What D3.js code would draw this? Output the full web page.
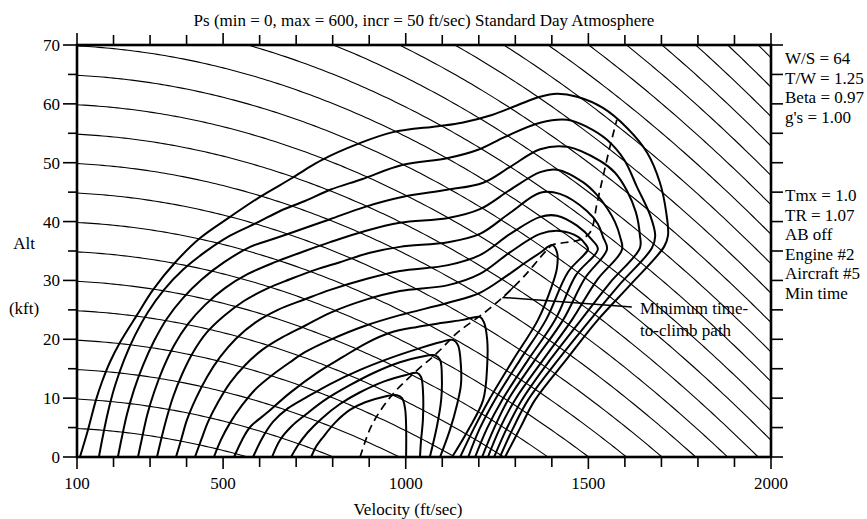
<!DOCTYPE html>
<html><head><meta charset="utf-8">
<script src="https://cdn.jsdelivr.net/npm/d3@7"></script>
<style>
body{margin:0;background:#fff;}
svg{display:block;}
text{font-family:"Liberation Serif","Times New Roman",serif;font-size:17px;fill:#000;}
</style></head><body>
<svg id="chart" width="867" height="519"></svg>
<script>
// ---------- data ----------
const xDomain = [100, 2000];            // Velocity (ft/sec)
const yDomain = [0, 70];                // Alt (kft)
const xTickValues = d3.range(100, 2001, 100);
const xTickLabels = [100, 500, 1000, 1500, 2000];
const yTickValues = d3.range(0, 71, 5);
const yTickLabels = [0, 10, 20, 30, 40, 50, 60, 70];
const energyLevels = d3.range(5, 131, 5);   // specific energy lines, kft
const gravity = 32.174;

// Ps contours [velocity, altitude kft]
const ps0 = [[108,0],[130,4.6],[152,9.7],[168,12.7],[190,16.1],[218,19.5],[264,24.1],[308,28.4],[368,33.0],[437,37.2],[519,40.8],[601,44.2],[689,47.4],[724,48.8],[771,50.5],[869,53.2],[965,55.2],[1088,56.2],[1154,56.8],[1236,58.1],[1307,59.8],[1368,61.2],[1414,61.7],[1469,61.2],[1540,59.3],[1606,55.9],[1661,51.7],[1696,46.6],[1713,41.6],[1718,37.6],[1707,35.7],[1614,29.2],[1526,23.3],[1439,16.5],[1354,9.7],[1313,4.9],[1272,0]];
const ps50 = [[160,0],[171,3.6],[185,7.7],[204,12.1],[229,16.5],[259,20.7],[294,24.6],[338,28.4],[390,31.8],[450,34.8],[519,37.6],[596,39.9],[656,41.8],[724,43.5],[793,45.4],[880,47.2],[990,49.6],[1116,50.8],[1198,52.2],[1272,54.4],[1368,56.8],[1442,57.3],[1496,56.1],[1551,53.9],[1598,50.5],[1633,45.9],[1669,41.1],[1683,37.6],[1674,35.5],[1587,29.4],[1505,23.3],[1417,16.5],[1335,9.7],[1294,4.9],[1258,0]];
const ps100 = [[212,0],[223,3.4],[237,7.3],[256,11.4],[281,15.6],[311,19.7],[346,23.5],[390,27.0],[442,30.2],[503,33.1],[574,35.7],[645,37.2],[724,38.9],[793,40.4],[889,42.5],[993,44.2],[1113,45.4],[1212,46.6],[1286,49.3],[1368,52.3],[1442,52.7],[1532,50.3],[1573,48.3],[1606,45.2],[1630,41.6],[1641,37.7],[1641,35.5],[1559,29.6],[1480,23.3],[1395,16.5],[1318,9.7],[1277,4.9],[1242,0]];
const ps150 = [[267,0],[278,3.2],[292,7.1],[311,11.0],[336,15.1],[366,19.0],[404,22.6],[450,25.8],[505,28.7],[568,31.1],[642,33.1],[724,35.0],[793,36.5],[889,38.4],[984,39.8],[1116,40.6],[1203,42.1],[1286,45.4],[1368,48.4],[1414,48.8],[1485,46.7],[1524,44.5],[1551,42.3],[1573,39.9],[1587,37.4],[1592,35.2],[1524,30.1],[1455,23.3],[1376,16.5],[1299,9.7],[1258,4.9],[1225,0]];
const ps200 = [[319,0],[330,2.9],[344,6.3],[363,10.2],[388,14.1],[418,17.8],[456,21.2],[503,24.0],[557,26.5],[623,28.7],[683,30.2],[752,31.8],[820,33.1],[902,34.7],[984,35.7],[1116,36.5],[1203,37.9],[1286,41.5],[1368,44.9],[1422,44.7],[1496,41.8],[1526,39.6],[1540,37.4],[1551,35.3],[1491,30.4],[1431,23.3],[1354,16.5],[1280,9.7],[1242,4.9],[1209,0]];
const ps250 = [[371,0],[385,2.9],[401,6.3],[426,10.0],[456,13.6],[492,17.0],[535,20.1],[587,22.8],[650,25.0],[724,26.8],[793,28.4],[889,30.2],[984,31.6],[1116,32.6],[1203,34.3],[1286,37.9],[1368,40.8],[1414,41.0],[1469,39.3],[1510,36.9],[1526,35.3],[1466,30.9],[1409,23.3],[1335,16.5],[1264,9.7],[1223,4.9],[1190,0]];
const ps300 = [[423,0],[440,2.9],[459,6.0],[486,9.3],[519,12.6],[560,15.6],[607,18.2],[664,20.4],[724,22.3],[793,24.5],[889,26.7],[984,28.2],[1116,29.2],[1203,31.1],[1286,34.8],[1368,37.9],[1422,38.4],[1472,37.4],[1494,36.0],[1499,35.3],[1444,31.4],[1384,23.3],[1313,16.5],[1244,9.7],[1203,4.9],[1171,0]];
const ps350 = [[475,0],[494,2.9],[519,5.8],[552,8.8],[590,11.6],[634,13.9],[683,16.1],[724,17.8],[793,19.9],[889,22.3],[984,24.1],[1116,26.2],[1203,27.9],[1272,30.6],[1327,33.0],[1368,34.7],[1401,36.0],[1414,34.8],[1414,32.1],[1398,28.7],[1362,23.3],[1294,16.5],[1228,9.7],[1187,4.9],[1149,0]];
const ps400 = [[530,0],[552,2.9],[574,5.1],[620,7.5],[683,10.9],[757,14.3],[828,17.0],[894,19.4],[957,21.1],[1031,22.1],[1102,22.8],[1157,23.3],[1203,23.8],[1214,22.9],[1223,19.9],[1223,15.6],[1212,9.7],[1171,4.6],[1127,0]];
const ps450 = [[582,0],[607,3.2],[637,6.0],[678,8.3],[724,10.0],[793,12.4],[875,14.8],[957,16.8],[1039,18.5],[1094,19.5],[1129,19.9],[1143,19.0],[1151,15.6],[1151,12.2],[1140,8.8],[1121,4.6],[1094,0]];
const ps500 = [[634,0],[656,2.9],[689,5.3],[724,7.1],[779,9.7],[847,12.2],[916,14.4],[984,16.1],[1039,17.0],[1080,17.3],[1094,16.5],[1099,13.1],[1097,9.7],[1086,5.4],[1066,0]];
const ps550 = [[686,0],[705,2.0],[732,4.2],[771,6.6],[820,9.0],[875,11.0],[943,12.9],[998,13.9],[1031,14.3],[1042,13.6],[1047,11.4],[1047,6.3],[1042,2.9],[1039,0]];
const ps600 = [[741,0],[754,1.7],[774,3.4],[806,5.8],[847,8.0],[889,9.3],[938,10.2],[976,10.5],[990,10.0],[998,8.3],[1001,5.4],[1001,0]];
const psContours = [ps0, ps50, ps100, ps150, ps200, ps250, ps300, ps350, ps400, ps450, ps500, ps550, ps600];

// minimum time-to-climb path
const minTimePath = [[875,0],[907,5.4],[962,10.5],[1025,14.4],[1088,17.8],[1143,21.2],[1217,24.6],[1272,27.5],[1327,30.9],[1381,34.8],[1401,36.0],[1431,36.4],[1477,36.9],[1505,38.2],[1524,43.2],[1540,47.6],[1559,52.7],[1578,57.3]];
const leaderLine = [[1619,25.5],[1267,27.1],[1295,28.9]];

const titleText = "Ps (min = 0, max = 600, incr = 50 ft/sec) Standard Day Atmosphere";
const sideLabels1 = ["W/S = 64", "T/W = 1.25", "Beta = 0.97", "g's = 1.00"];
const sideLabels2 = ["Tmx = 1.0", "TR = 1.07", "AB off", "Engine #2", "Aircraft #5", "Min time"];

// ---------- drawing ----------
const svg = d3.select("#chart");
const L = 77, R = 771, T = 45, B = 457;
const x = d3.scaleLinear().domain(xDomain).range([L, R]);
const y = d3.scaleLinear().domain(yDomain).range([B, T]);

svg.append("rect").attr("width", 867).attr("height", 519).attr("fill", "#fff");
svg.append("defs").append("clipPath").attr("id", "plotclip")
  .append("rect").attr("x", L).attr("y", T).attr("width", R - L).attr("height", B - T);

const plot = svg.append("g").attr("clip-path", "url(#plotclip)");

// energy height lines
const vSamples = d3.range(100, 2001, 10);
const eLine = d3.line().x(d => x(d[0])).y(d => y(d[1]));
energyLevels.forEach(E => {
  const pts = vSamples.map(v => [v, E - v * v / (2 * gravity) / 1000]);
  plot.append("path").attr("d", eLine(pts))
    .attr("fill", "none").attr("stroke", "#000").attr("stroke-width", 1.1);
});

// Ps contours
const cLine = d3.line().x(d => x(d[0])).y(d => y(d[1])).curve(d3.curveCatmullRom.alpha(0.5));
psContours.forEach(c => {
  plot.append("path").attr("d", cLine(c))
    .attr("fill", "none").attr("stroke", "#000").attr("stroke-width", 2)
    .attr("stroke-linejoin", "round");
});

// min time path
plot.append("path").attr("d", cLine(minTimePath))
  .attr("fill", "none").attr("stroke", "#000").attr("stroke-width", 1.7)
  .attr("stroke-dasharray", "8,5");

// leader line
plot.append("path").attr("d", d3.line().x(d => x(d[0])).y(d => y(d[1]))(leaderLine))
  .attr("fill", "none").attr("stroke", "#000").attr("stroke-width", 1.5);

// frame & ticks
const frame = svg.append("g").attr("stroke", "#000").attr("fill", "none");
frame.append("rect").attr("x", L).attr("y", T).attr("width", R - L).attr("height", B - T).attr("stroke-width", 2.6);
xTickValues.forEach(v => {
  const major = xTickLabels.includes(v);
  frame.append("line").attr("x1", x(v)).attr("x2", x(v)).attr("y1", T).attr("y2", T - (major ? 12 : 10)).attr("stroke-width", 1.6);
  frame.append("line").attr("x1", x(v)).attr("x2", x(v)).attr("y1", B).attr("y2", B + (major ? 12 : 10)).attr("stroke-width", 1.6);
});
yTickValues.forEach(h => {
  const major = yTickLabels.includes(h);
  frame.append("line").attr("x1", L).attr("x2", L - (major ? 14 : 9)).attr("y1", y(h)).attr("y2", y(h)).attr("stroke-width", 1.6);
  frame.append("line").attr("x1", R).attr("x2", R + 12).attr("y1", y(h)).attr("y2", y(h)).attr("stroke-width", 1.6);
});

// tick labels
svg.append("g").selectAll("text").data(xTickLabels).join("text")
  .attr("x", d => x(d)).attr("y", 489).attr("text-anchor", "middle").text(d => d);
svg.append("g").selectAll("text").data(yTickLabels).join("text")
  .attr("x", 60).attr("y", d => y(d) + 6).attr("text-anchor", "end").text(d => d);

// titles
svg.append("text").attr("x", 424).attr("y", 26).attr("text-anchor", "middle").text(titleText);
svg.append("text").attr("x", 408).attr("y", 515).attr("text-anchor", "middle").text("Velocity (ft/sec)");
svg.append("text").attr("x", 24).attr("y", 249).attr("text-anchor", "middle").text("Alt");
svg.append("text").attr("x", 24).attr("y", 314).attr("text-anchor", "middle").text("(kft)");

// side labels
sideLabels1.forEach((t, i) => svg.append("text").attr("x", 785).attr("y", 64 + i * 19.5).text(t));
sideLabels2.forEach((t, i) => svg.append("text").attr("x", 785).attr("y", 201 + i * 19.5).text(t));

// annotation
svg.append("text").attr("x", 640).attr("y", 314).text("Minimum time-");
svg.append("text").attr("x", 640).attr("y", 336).text("to-climb path");
</script>
</body></html>
